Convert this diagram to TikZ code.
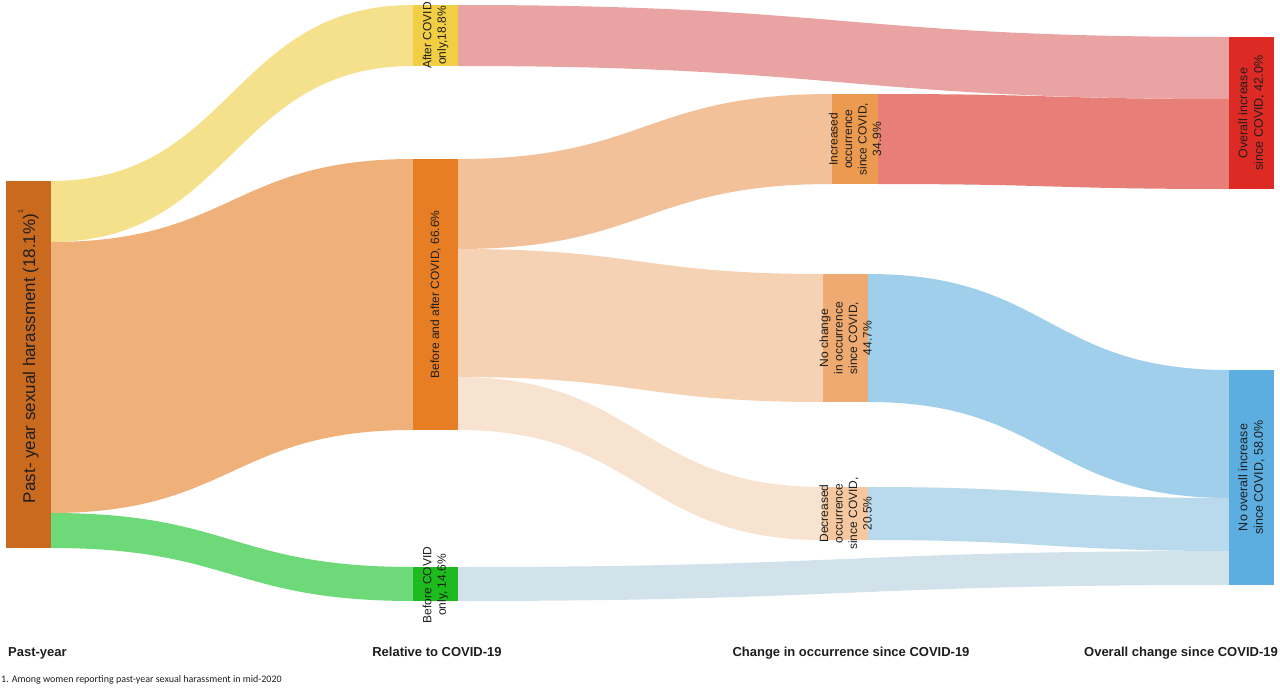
\documentclass[tikz,border=0pt]{standalone}
\usepackage{fontspec}
\setmainfont{Liberation Sans}
\newfontfamily\notefont{Carlito}
\definecolor{cA}{HTML}{C96A1E}
\definecolor{cAfter}{HTML}{F2CE45}
\definecolor{cBA}{HTML}{E77E24}
\definecolor{cBefore}{HTML}{1DBB1D}
\definecolor{cInc}{HTML}{EC9A50}
\definecolor{cNo}{HTML}{EEAA70}
\definecolor{cDec}{HTML}{F5C8A0}
\definecolor{cOI}{HTML}{DE2A25}
\definecolor{cNOI}{HTML}{5BAEDF}
\definecolor{fAfter}{HTML}{F5E08C}
\definecolor{fBA}{HTML}{EFB07A}
\definecolor{fBefore}{HTML}{6DD978}
\definecolor{fInc}{HTML}{F2C19A}
\definecolor{fNo}{HTML}{F4D2B3}
\definecolor{fDec}{HTML}{F8E2D0}
\definecolor{fAO}{HTML}{E8A3A2}
\definecolor{fIO}{HTML}{E87E78}
\definecolor{fNN}{HTML}{9FCFEB}
\definecolor{fDN}{HTML}{B9D9EC}
\definecolor{fBN}{HTML}{D2E2EA}
\definecolor{txt}{HTML}{1E1E1E}
\newcommand{\sflow}[7]{\fill[#7] (#1,#2) .. controls ({(#1+#4)/2},#2) and ({(#1+#4)/2},#5) .. (#4,#5) -- (#4,#6) .. controls ({(#1+#4)/2},#6) and ({(#1+#4)/2},#3) .. (#1,#3) -- cycle;}
\tikzset{
  bar/.style={inner sep=0pt, outer sep=0pt, anchor=north west, draw=none},
  lbl/.style={rotate=90, align=center, text=txt, inner sep=0pt, font=\fontsize{12}{14.5}\selectfont},
  axis/.style={font=\fontsize{13}{15}\selectfont\bfseries, text=txt, inner sep=0pt},
}
\begin{document}
\begin{tikzpicture}[x=1pt,y=-1pt]
\useasboundingbox (0,0) rectangle (1280,688);
% flows
\sflow{51}{181}{242}{413}{5}{66}{fAfter}
\sflow{51}{242}{513}{413}{159}{430}{fBA}
\sflow{51}{513}{548}{413}{567}{601}{fBefore}
\sflow{458}{159}{249}{832}{94}{184}{fInc}
\sflow{458}{249}{377}{823}{274}{402}{fNo}
\sflow{458}{377}{430}{823}{487}{540}{fDec}
\sflow{458}{5}{66}{1229}{37}{99}{fAO}
\sflow{878}{94}{184}{1229}{99}{189}{fIO}
\sflow{868}{274}{402}{1229}{370}{498}{fNN}
\sflow{868}{487}{540}{1229}{498}{551}{fDN}
\sflow{458}{567}{601}{1229}{551}{585}{fBN}
% nodes
\node[bar, fill=cA, minimum width=45pt, minimum height=367pt] (past) at (6,181) {};
\node[bar, fill=cAfter, minimum width=45pt, minimum height=61pt] (after) at (413,5) {};
\node[bar, fill=cBA, minimum width=45pt, minimum height=271pt] (both) at (413,159) {};
\node[bar, fill=cBefore, minimum width=45pt, minimum height=34pt] (before) at (413,567) {};
\node[bar, fill=cInc, minimum width=46pt, minimum height=90pt] (inc) at (832,94) {};
\node[bar, fill=cNo, minimum width=45pt, minimum height=128pt] (nochg) at (823,274) {};
\node[bar, fill=cDec, minimum width=45pt, minimum height=53pt] (dec) at (823,487) {};
\node[bar, fill=cOI, minimum width=45pt, minimum height=152pt] (oi) at (1229,37) {};
\node[bar, fill=cNOI, minimum width=45pt, minimum height=215pt] (noi) at (1229,370) {};
% labels
\node[lbl, font=\fontsize{17}{20}\selectfont] (tpast) at ([yshift=8pt]past.center) {Past- year sexual harassment (18.1\%)\raisebox{0.7em}{\fontsize{7}{7}\selectfont 1}};
\node[lbl] (tafter) at (after.center) {After COVID\\only,18.8\%};
\node[lbl] (tboth) at (both.center) {Before and after COVID, 66.6\%};
\node[lbl] (tbefore) at ([yshift=-1pt]before.center) {Before COVID\\only, 14.6\%};
\node[lbl] (tinc) at (inc.center) {Increased\\occurrence\\since COVID,\\34.9\%};
\node[lbl] (tno) at (nochg.center) {No change\\in occurrence\\since COVID,\\44.7\%};
\node[lbl] (tdec) at (dec.center) {Decreased\\occurrence\\since COVID,\\20.5\%};
\node[lbl, font=\fontsize{12.5}{15.5}\selectfont] (toi) at (oi.center) {Overall increase\\since COVID, 42.0\%};
\node[lbl, font=\fontsize{12.5}{15.5}\selectfont] (tnoi) at (noi.center) {No overall increase\\since COVID, 58.0\%};
% axis titles
\node[axis, anchor=base west] (h1) at (8,656) {Past-year};
\node[axis, anchor=base] (h2) at (437,656) {Relative to COVID-19};
\node[axis, anchor=base] (h3) at (851,656) {Change in occurrence since COVID-19};
\node[axis, anchor=base east] (h4) at (1278,656) {Overall change since COVID-19};
\node[anchor=base west, inner sep=0pt, text=txt, font=\notefont\fontsize{10}{12}\selectfont] (note) at (1,682) {1. Among women reporting past-year sexual harassment in mid-2020};
\end{tikzpicture}
\end{document}
